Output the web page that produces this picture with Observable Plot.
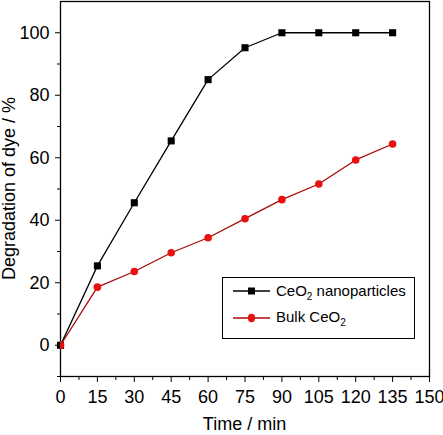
<!DOCTYPE html>
<html>
<head>
<meta charset="utf-8">
<script src="https://cdn.jsdelivr.net/npm/d3@7"></script>
<script src="https://cdn.jsdelivr.net/npm/@observablehq/plot@0.6"></script>
<style>
  body { margin: 0; background: #fff; }
  #wrap { position: relative; width: 443px; height: 435px; font-family: "Liberation Sans", Arial, sans-serif; }
  #overlay { position: absolute; left: 0; top: 0; pointer-events: none; }
</style>
</head>
<body>
<div id="wrap"></div>
<script>
// ---- data ----
const times = [0, 15, 30, 45, 60, 75, 90, 105, 120, 135];
const nanoValues = [0, 25.4, 45.6, 65.4, 85.0, 95.2, 100, 100, 100, 100];
const bulkValues = [0, 18.6, 23.6, 29.6, 34.4, 40.5, 46.6, 51.6, 59.3, 64.4];
const xMajorTicks = [0, 15, 30, 45, 60, 75, 90, 105, 120, 135, 150];
const xMinorTicks = [7.5, 22.5, 37.5, 52.5, 67.5, 82.5, 97.5, 112.5, 127.5, 142.5];
const yMajorTicks = [0, 20, 40, 60, 80, 100];
const yMinorTicks = [-10, 10, 30, 50, 70, 90];
const seriesNames = ["CeO2 nanoparticles", "Bulk CeO2"];
const xTitle = "Time / min";
const yTitle = "Degradation of dye / %";

const nano = times.map((t, i) => ({t, v: nanoValues[i]}));
const bulk = times.map((t, i) => ({t, v: bulkValues[i]}));

const W = 443, H = 435;
const mL = 60, mR = 14, mT = 1, mB = 59;

const chart = Plot.plot({
  width: W, height: H,
  marginLeft: mL, marginRight: mR, marginTop: mT, marginBottom: mB,
  style: {fontFamily: "'Liberation Sans', Arial, sans-serif", fontSize: "18px", color: "#000", background: "#fff", overflow: "visible"},
  x: {domain: [0, 150]},
  y: {domain: [-10, 110]},
  marks: [
    Plot.frame({stroke: "#000", strokeWidth: 1.3}),
    Plot.axisX(xMajorTicks, {tickSize: 6, tickPadding: 8, fontSize: 18, label: null, tickFormat: d => String(d)}),
    Plot.axisX(xMinorTicks, {tickSize: 4, tickFormat: () => "", label: null}),
    Plot.axisY(yMajorTicks, {tickSize: 5, tickPadding: 6, fontSize: 18, label: null, tickFormat: d => String(d)}),
    Plot.axisY(yMinorTicks, {tickSize: 3, tickFormat: () => "", label: null}),
    Plot.line(nano, {x: "t", y: "v", stroke: "#000", strokeWidth: 1.3}),
    Plot.dot(nano, {x: "t", y: "v", symbol: "square", r: 4, fill: "#000"}),
    Plot.line(bulk, {x: "t", y: "v", stroke: "#a80a0a", strokeWidth: 1.3}),
    Plot.dot(bulk, {x: "t", y: "v", r: 3.8, fill: "#ea1010", clip: true})
  ]
});
document.getElementById("wrap").appendChild(chart);

// ---- titles and legend (overlay) ----
const ov = d3.select("#wrap").append("svg").attr("id", "overlay")
  .attr("width", W).attr("height", H)
  .style("font-family", "'Liberation Sans', Arial, sans-serif");

ov.append("text").attr("x", (mL + W - mR) / 2).attr("y", 430)
  .attr("text-anchor", "middle").attr("font-size", 18).attr("fill", "#000").text(xTitle);
ov.append("text").attr("transform", `translate(15,${(mT + H - mB) / 2}) rotate(-90)`)
  .attr("text-anchor", "middle").attr("font-size", 18).attr("fill", "#000").text(yTitle);

const lg = ov.append("g");
lg.append("rect").attr("x", 222.5).attr("y", 277.5).attr("width", 192).attr("height", 61)
  .attr("fill", "#fff").attr("stroke", "#000").attr("stroke-width", 1);

function legendLabel(g, x, y, name) {
  const parts = name.split("2");
  const t = g.append("text").attr("x", x).attr("y", y).attr("font-size", 15).attr("fill", "#000");
  t.append("tspan").text(parts[0]);
  t.append("tspan").attr("dy", 4).attr("font-size", 10).text("2");
  t.append("tspan").attr("dy", -4).text(parts[1]);
}
// row 1
lg.append("line").attr("x1", 233).attr("x2", 270).attr("y1", 291).attr("y2", 291).attr("stroke", "#000").attr("stroke-width", 1.5);
lg.append("rect").attr("x", 248).attr("y", 287.5).attr("width", 7).attr("height", 7).attr("fill", "#000");
legendLabel(lg, 276, 296, seriesNames[0]);
// row 2
lg.append("line").attr("x1", 233).attr("x2", 270).attr("y1", 318).attr("y2", 318).attr("stroke", "#a80a0a").attr("stroke-width", 1.5);
lg.append("ellipse").attr("cx", 251.5).attr("cy", 318).attr("rx", 3.6).attr("ry", 4.2).attr("fill", "#ea1010");
legendLabel(lg, 276, 322, seriesNames[1]);
</script>
</body>
</html>
